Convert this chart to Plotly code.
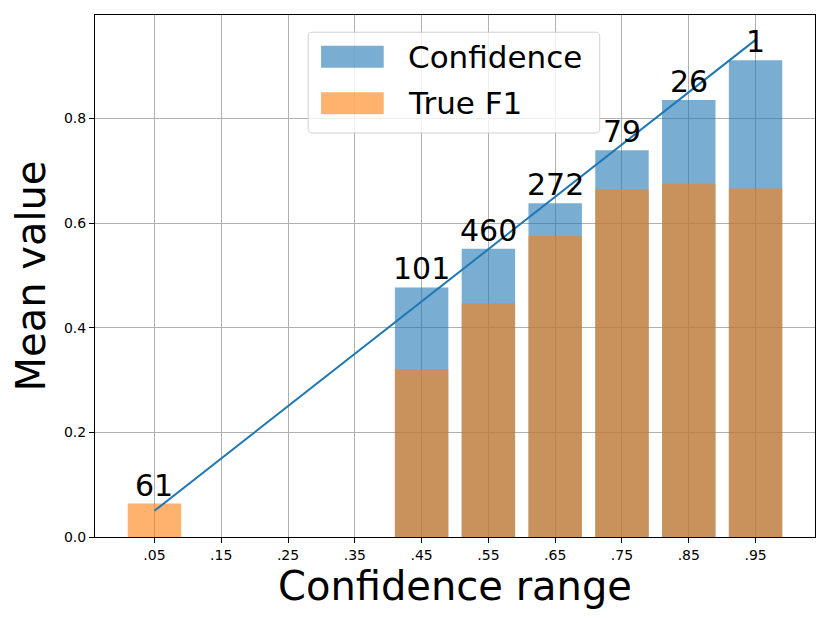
import plotly.graph_objects as go

# bin centres and their tick labels
bins = [0.05, 0.15, 0.25, 0.35, 0.45, 0.55, 0.65, 0.75, 0.85, 0.95]
tick_labels = ['.05', '.15', '.25', '.35', '.45', '.55', '.65', '.75', '.85', '.95']

# mean values per bin (None = empty bin)
confidence = [0.0, None, None, None, 0.477, 0.551, 0.638, 0.739, 0.835, 0.911]
true_f1 = [0.064, None, None, None, 0.321, 0.446, 0.575, 0.664, 0.675, 0.666]
counts = [61, None, None, None, 101, 460, 272, 79, 26, 1]

# perfect calibration line
diag_x = [0.05, 0.95]
diag_y = [0.05, 0.95]

FONT = 'DejaVu Sans'
blue = 'rgba(31,119,180,0.6)'
orange = 'rgba(255,127,14,0.6)'

fig = go.Figure()

fig.add_trace(go.Bar(x=bins, y=confidence, width=0.08, name='Confidence',
                     marker=dict(color=blue, line=dict(width=0))))
fig.add_trace(go.Bar(x=bins, y=true_f1, width=0.08, name='True F1',
                     marker=dict(color=orange, line=dict(width=0))))
fig.add_trace(go.Scatter(x=diag_x, y=diag_y, mode='lines',
                         line=dict(color='#1f77b4', width=2), showlegend=False))

# count labels above each bar
for b, c, f, n in zip(bins, confidence, true_f1, counts):
    if n is None:
        continue
    top = max(v for v in (c, f) if v is not None)
    fig.add_annotation(x=b, y=top, text=str(n), showarrow=False,
                       xanchor='center', yanchor='bottom', yshift=-1,
                       font=dict(family=FONT, size=30, color='black'))

# legend drawn by hand so the patches are wide like the original
def rounded(x0, y0, x1, y1, rx=0.006, ry=0.008):
    return (f'M{x0+rx},{y0} L{x1-rx},{y0} Q{x1},{y0} {x1},{y0+ry} '
            f'L{x1},{y1-ry} Q{x1},{y1} {x1-rx},{y1} L{x0+rx},{y1} '
            f'Q{x0},{y1} {x0},{y1-ry} L{x0},{y0+ry} Q{x0},{y0} {x0+rx},{y0} Z')

fig.add_shape(type='path', xref='paper', yref='paper',
              path=rounded(0.296, 0.774, 0.701, 0.967),
              fillcolor='rgba(255,255,255,0.8)', line=dict(color='#d0d0d0', width=1))
legend_items = [('Confidence', blue, 0.899, 0.941, 0.920),
                ('True F1', orange, 0.810, 0.852, 0.831)]
for label, col, y0, y1, ym in legend_items:
    fig.add_shape(type='rect', xref='paper', yref='paper',
                  x0=0.314, x1=0.401, y0=y0, y1=y1,
                  fillcolor=col, line=dict(width=0))
    fig.add_annotation(xref='paper', yref='paper', x=0.432, y=ym, text=label,
                       showarrow=False, xanchor='left', yanchor='middle',
                       font=dict(family=FONT, size=31, color='black'))

axis_common = dict(showline=True, linecolor='black', linewidth=1, mirror=True,
                   ticks='outside', ticklen=5, tickcolor='black', automargin=False,
                   showgrid=True, gridcolor='#b0b0b0', gridwidth=1, zeroline=False,
                   tickfont=dict(family=FONT, size=14, color='black'))

fig.update_xaxes(range=[-0.039, 1.039], tickvals=bins, ticktext=tick_labels,
                 title=dict(text='Confidence range', standoff=2,
                            font=dict(family=FONT, size=40, color='black')),
                 **axis_common)
fig.update_yaxes(range=[0, 0.9975], tickvals=[0, 0.2, 0.4, 0.6, 0.8], tickformat='.1f',
                 title=dict(text='Mean value', standoff=5,
                            font=dict(family=FONT, size=40, color='black')),
                 **axis_common)

fig.update_layout(width=830, height=623, barmode='overlay', showlegend=False,
                  plot_bgcolor='white', paper_bgcolor='white',
                  margin=dict(l=95, r=15, t=15, b=86),
                  font=dict(family=FONT, color='black'))

# drop the page's default 8px body margin so the figure sits at the window origin
fig.write_html('out.html', config={'displayModeBar': False},
               post_script="document.body.style.margin='0';")
